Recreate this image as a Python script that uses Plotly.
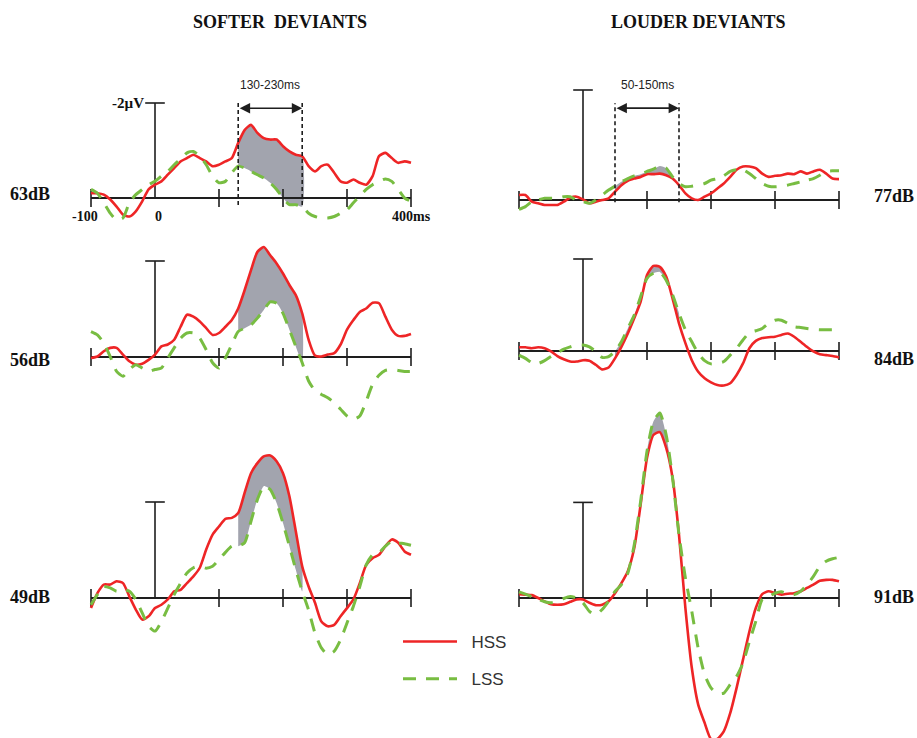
import plotly.graph_objects as go

W, H = 917, 738

# ---------------- data (µV, negative = up) ----------------
TIME_MS = list(range(-100, 401, 10))
X_TICKS = [-100, 0, 100, 200, 300, 400]
X_TICK_LABELS = ["-100", "0", "400ms"]
X_TICK_LABEL_POS = [-100, 0, 400]
SCALE_BAR_UV = -2
SCALE_BAR_LABEL = "-2\u00b5V"
SERIES_NAMES = ["HSS", "LSS"]

HSS_63 = [-0.1, -0.1, -0.07, 0.03, 0.18, 0.35, 0.39, 0.28, 0.07, -0.18,
          -0.28, -0.35, -0.49, -0.63, -0.77, -0.84, -0.91, -0.84, -0.77, -0.67,
          -0.7, -0.77, -0.84, -1.16, -1.43, -1.54, -1.37, -1.26, -1.23, -1.23,
          -1.09, -0.98, -0.91, -0.88, -0.67, -0.56, -0.67, -0.7, -0.53, -0.35,
          -0.32, -0.39, -0.32, -0.28, -0.46, -0.88, -0.95, -0.84, -0.74, -0.77,
          -0.74]
LSS_63 = [-0.18, -0.1, 0.1, 0.32, 0.46, 0.42, 0.1, -0.07, -0.18, -0.28,
          -0.35, -0.46, -0.56, -0.7, -0.82, -0.95, -0.98, -0.88, -0.7, -0.46,
          -0.32, -0.35, -0.53, -0.67, -0.63, -0.56, -0.49, -0.42, -0.32, -0.18,
          0.0, 0.14, 0.14, 0.18, 0.32, 0.39, 0.42, 0.42, 0.39, 0.32,
          0.25, 0.1, -0.04, -0.18, -0.28, -0.35, -0.4, -0.35, -0.18, 0.0,
          0.07]

HSS_56 = [0.02, -0.01, -0.12, -0.19, -0.19, -0.05, 0.09, 0.16, 0.14, 0.06,
          -0.05, -0.22, -0.26, -0.36, -0.63, -0.88, -0.84, -0.74, -0.6, -0.46,
          -0.5, -0.63, -0.77, -1.01, -1.39, -1.81, -2.19, -2.29, -2.12, -1.95,
          -1.74, -1.5, -1.29, -0.91, -0.36, -0.03, -0.01, -0.05, -0.08, -0.26,
          -0.57, -0.77, -0.94, -1.01, -1.13, -1.12, -0.84, -0.57, -0.44, -0.44,
          -0.48]
LSS_56 = [-0.53, -0.46, -0.29, -0.01, 0.3, 0.4, 0.26, 0.16, 0.23, 0.3,
          0.26, 0.23, 0.02, -0.19, -0.39, -0.5, -0.5, -0.39, -0.15, 0.12,
          0.23, 0.02, -0.26, -0.53, -0.6, -0.67, -0.81, -0.98, -1.15, -1.12,
          -0.91, -0.57, -0.22, 0.12, 0.5, 0.7, 0.78, 0.85, 0.95, 1.09,
          1.23, 1.3, 1.23, 0.92, 0.57, 0.38, 0.28, 0.26, 0.28, 0.3,
          0.3]

HSS_49 = [0.21, -0.1, -0.28, -0.28, -0.35, -0.31, -0.03, 0.24, 0.45, 0.38,
          0.21, 0.14, 0.03, -0.14, -0.17, -0.31, -0.45, -0.63, -1.01, -1.32,
          -1.49, -1.65, -1.67, -1.77, -2.19, -2.6, -2.81, -2.95, -2.97, -2.85,
          -2.6, -2.12, -1.39, -0.66, -0.24, 0.1, 0.49, 0.59, 0.56, 0.38,
          0.21, 0.03, -0.31, -0.69, -0.83, -0.9, -1.08, -1.22, -1.15, -0.97,
          -0.9]
LSS_49 = [0.14, -0.07, -0.24, -0.21, -0.14, -0.17, -0.14, 0.03, 0.31, 0.59,
          0.69, 0.49, 0.21, -0.07, -0.31, -0.52, -0.63, -0.66, -0.62, -0.66,
          -0.8, -0.95, -1.08, -1.08, -1.15, -1.6, -2.05, -2.33, -2.26, -1.98,
          -1.56, -1.08, -0.59, -0.14, 0.25, 0.73, 1.04, 1.18, 1.11, 0.87,
          0.52, 0.17, -0.24, -0.69, -0.9, -0.94, -1.08, -1.18, -1.15, -1.13,
          -1.1]

HSS_77 = [-0.09, -0.09, 0.03, 0.06, 0.09, 0.09, 0.09, 0.03, -0.04, -0.06,
          -0.01, 0.06, 0.03, 0.0, -0.03, -0.15, -0.27, -0.35, -0.39, -0.42,
          -0.47, -0.47, -0.48, -0.45, -0.39, -0.27, -0.12, -0.03, 0.0, -0.06,
          -0.12, -0.21, -0.3, -0.42, -0.55, -0.61, -0.61, -0.58, -0.48, -0.42,
          -0.44, -0.45, -0.48, -0.47, -0.52, -0.48, -0.52, -0.55, -0.48, -0.39,
          -0.38]
LSS_77 = [0.17, 0.12, 0.03, 0.0, -0.03, -0.03, -0.03, -0.06, -0.06, 0.0,
          0.03, 0.06, 0.0, -0.09, -0.18, -0.25, -0.33, -0.39, -0.44, -0.47,
          -0.52, -0.56, -0.62, -0.58, -0.42, -0.3, -0.24, -0.25, -0.27, -0.3,
          -0.36, -0.39, -0.44, -0.52, -0.55, -0.55, -0.48, -0.39, -0.3, -0.25,
          -0.24, -0.25, -0.27, -0.3, -0.33, -0.36, -0.39, -0.45, -0.52, -0.53,
          -0.53]

HSS_84 = [-0.08, -0.08, -0.06, -0.08, -0.06, 0.01, 0.11, 0.18, 0.23, 0.23,
          0.2, 0.21, 0.3, 0.4, 0.36, 0.16, -0.09, -0.38, -0.71, -1.07,
          -1.65, -1.85, -1.83, -1.62, -1.14, -0.6, -0.17, 0.2, 0.45, 0.59,
          0.68, 0.74, 0.75, 0.7, 0.52, 0.27, -0.06, -0.22, -0.28, -0.3,
          -0.31, -0.35, -0.38, -0.31, -0.2, -0.09, 0.01, 0.07, 0.09, 0.11,
          0.14]
LSS_84 = [0.09, 0.16, 0.25, 0.27, 0.21, 0.12, 0.04, -0.04, -0.09, -0.13,
          -0.13, -0.09, 0.01, 0.14, 0.12, 0.01, -0.2, -0.49, -0.78, -1.18,
          -1.58, -1.69, -1.72, -1.54, -1.22, -0.82, -0.46, -0.2, 0.05, 0.21,
          0.28, 0.27, 0.23, 0.09, -0.06, -0.24, -0.4, -0.44, -0.49, -0.6,
          -0.67, -0.67, -0.6, -0.53, -0.51, -0.49, -0.47, -0.46, -0.46, -0.46,
          -0.46]

HSS_91 = [-0.08, -0.07, -0.06, 0.0, 0.07, 0.13, 0.14, 0.13, 0.08, 0.03,
          0.03, 0.1, 0.15, 0.14, 0.07, -0.1, -0.31, -0.56, -1.04, -1.95,
          -2.93, -3.41, -3.47, -3.14, -2.51, -1.32, 0.21, 1.46, 2.23, 2.61,
          2.95, 2.95, 2.79, 2.41, 1.88, 1.29, 0.7, 0.21, -0.08, -0.14,
          -0.1, -0.07, -0.09, -0.1, -0.14, -0.21, -0.28, -0.36, -0.38, -0.38,
          -0.35]
LSS_91 = [-0.13, -0.08, -0.03, 0.03, 0.08, 0.1, 0.07, 0.01, -0.03, 0.0,
          0.1, 0.28, 0.35, 0.24, 0.07, -0.14, -0.28, -0.52, -1.11, -2.02,
          -3.07, -3.69, -3.87, -3.41, -2.51, -1.32, -0.42, 0.28, 1.05, 1.6,
          1.88, 2.0, 1.99, 1.81, 1.64, 1.36, 0.91, 0.49, 0.03, -0.03,
          -0.1, -0.13, -0.08, -0.07, -0.14, -0.28, -0.45, -0.66, -0.77, -0.82,
          -0.85]

COLUMN_TITLES = ["SOFTER  DEVIANTS", "LOUDER DEVIANTS"]
WINDOW_LABELS = {"L": "130-230ms", "R": "50-150ms"}
WINDOWS = {"L": (130, 230), "R": (50, 150)}

# ---------------- layout config (pixels) ----------------
RED = "#ee2526"
GREEN = "#78bd42"
GRAY = "#a2a4ae"
INK = "#1e1e1e"
SERIF = "Liberation Serif, Times New Roman, serif"
SANS = "Liberation Sans, Arial, sans-serif"

COLS = {"L": dict(x0px=155, xbox=(70, 432), label_x=8),
        "R": dict(x0px=583, xbox=(500, 862), label_x=872)}
PX_PER_MS = 0.64

PANELS = [
    dict(name="63dB", col="L", hss=HSS_63, lss=LSS_63, ybox=(60, 232), base=198, scale=47.5,
         window=True, dash=(0.15, -2.0), arrow_y=-1.89, wlabel_y=-2.38, ticklabels=True, label_y=194),
    dict(name="56dB", col="L", hss=HSS_56, lss=LSS_56, ybox=(232, 440), base=357, scale=48.0,
         window=False, ticklabels=False, label_y=360),
    dict(name="49dB", col="L", hss=HSS_49, lss=LSS_49, ybox=(440, 738), base=598, scale=48.0,
         window=False, ticklabels=False, label_y=597),
    dict(name="77dB", col="R", hss=HSS_77, lss=LSS_77, ybox=(60, 232), base=200, scale=55.0,
         window=True, dash=(0.04, -1.76), arrow_y=-1.67, wlabel_y=-2.09, ticklabels=False, label_y=196),
    dict(name="84dB", col="R", hss=HSS_84, lss=LSS_84, ybox=(232, 395), base=351, scale=46.0,
         window=False, ticklabels=False, label_y=359),
    dict(name="91dB", col="R", hss=HSS_91, lss=LSS_91, ybox=(395, 738), base=598, scale=47.8,
         window=False, ticklabels=False, label_y=597),
]

fig = go.Figure()
annotations = []
layout_axes = {}
NB = "\u00a0\u00a0"

for i, p in enumerate(PANELS, start=1):
    c = COLS[p["col"]]
    xa = "x" if i == 1 else f"x{i}"
    ya = "y" if i == 1 else f"y{i}"
    xk = "xaxis" if i == 1 else f"xaxis{i}"
    yk = "yaxis" if i == 1 else f"yaxis{i}"
    xl, xr = c["xbox"]
    yt, yb = p["ybox"]
    xrange = [(xl - c["x0px"]) / PX_PER_MS, (xr - c["x0px"]) / PX_PER_MS]
    yrange = [(yb - p["base"]) / p["scale"], (yt - p["base"]) / p["scale"]]
    layout_axes[xk] = dict(domain=[xl / W, xr / W], range=xrange, visible=False,
                           anchor=ya, fixedrange=True)
    layout_axes[yk] = dict(domain=[1 - yb / H, 1 - yt / H], range=yrange, visible=False,
                           anchor=xa, fixedrange=True)

    w0, w1 = WINDOWS[p["col"]]
    idx = [k for k, t in enumerate(TIME_MS) if w0 <= t <= w1]
    fx = [TIME_MS[k] for k in idx] + [TIME_MS[k] for k in reversed(idx)]
    fy = [p["hss"][k] for k in idx] + [p["lss"][k] for k in reversed(idx)]
    fig.add_trace(go.Scatter(x=fx, y=fy, fill="toself", fillcolor=GRAY, mode="lines",
                             line=dict(width=0, shape="spline", smoothing=0.6),
                             showlegend=False, hoverinfo="skip", xaxis=xa, yaxis=ya))

    # x axis line + ticks
    fig.add_trace(go.Scatter(x=[X_TICKS[0], X_TICKS[-1]], y=[0, 0], mode="lines",
                             line=dict(color=INK, width=2), showlegend=False,
                             hoverinfo="skip", xaxis=xa, yaxis=ya))
    tk = [t for t in X_TICKS if t != 0]
    fig.add_trace(go.Scatter(x=tk, y=[0] * len(tk), mode="markers",
                             marker=dict(symbol="line-ns", size=13, line=dict(color=INK, width=1.6)),
                             showlegend=False, hoverinfo="skip", xaxis=xa, yaxis=ya))
    # vertical scale axis
    fig.add_trace(go.Scatter(x=[0, 0], y=[0, SCALE_BAR_UV], mode="lines",
                             line=dict(color=INK, width=1.6), showlegend=False,
                             hoverinfo="skip", xaxis=xa, yaxis=ya))
    fig.add_trace(go.Scatter(x=[0], y=[SCALE_BAR_UV], mode="markers",
                             marker=dict(symbol="line-ew", size=14, line=dict(color=INK, width=1.6)),
                             showlegend=False, hoverinfo="skip", xaxis=xa, yaxis=ya))

    # waveforms
    fig.add_trace(go.Scatter(x=TIME_MS, y=p["hss"], mode="lines", name=NB + SERIES_NAMES[0],
                             line=dict(color=RED, width=2.6, shape="spline", smoothing=0.6),
                             showlegend=(i == 1), legendgroup="HSS",
                             xaxis=xa, yaxis=ya))
    fig.add_trace(go.Scatter(x=TIME_MS, y=p["lss"], mode="lines", name=NB + SERIES_NAMES[1],
                             line=dict(color=GREEN, width=3, dash="13px,10px",
                                       shape="spline", smoothing=0.6),
                             showlegend=(i == 1), legendgroup="LSS",
                             xaxis=xa, yaxis=ya))

    if p["window"]:
        d0, d1 = p["dash"]
        for t in (w0, w1):
            fig.add_trace(go.Scatter(x=[t, t], y=[d0, d1], mode="lines",
                                     line=dict(color=INK, width=1.6, dash="4px,3px"),
                                     showlegend=False, hoverinfo="skip", xaxis=xa, yaxis=ya))
        annotations.append(dict(x=w1, y=p["arrow_y"], ax=w0, ay=p["arrow_y"],
                                xref=xa, yref=ya, axref=xa, ayref=ya, text="",
                                showarrow=True, arrowside="end+start", arrowhead=2,
                                arrowsize=1.3, arrowwidth=1.6, arrowcolor=INK,
                                standoff=0, startstandoff=0))
        annotations.append(dict(x=(w0 + w1) / 2, y=p["wlabel_y"], xref=xa, yref=ya,
                                text=WINDOW_LABELS[p["col"]], showarrow=False,
                                xanchor="center", yanchor="middle",
                                font=dict(family=SANS, size=12, color="#222")))
    if p["ticklabels"]:
        annotations.append(dict(x=0, y=SCALE_BAR_UV, xref=xa, yref=ya,
                                text=f"<b>{SCALE_BAR_LABEL}</b>",
                                showarrow=False, xanchor="right", yanchor="middle", xshift=-9,
                                font=dict(family=SERIF, size=15, color="#111")))
        shifts = {"-100": -6, "0": 3, "400ms": 0}
        for lab, pos in zip(X_TICK_LABELS, X_TICK_LABEL_POS):
            annotations.append(dict(x=pos, y=0, xref=xa, yref=ya, text=f"<b>{lab}</b>",
                                    showarrow=False, yshift=-18, xshift=shifts[lab],
                                    xanchor="center", yanchor="middle",
                                    font=dict(family=SERIF, size=14, color="#111")))

    annotations.append(dict(x=c["label_x"] / W, y=1 - p["label_y"] / H, xref="paper", yref="paper",
                            text=f"<b>{p['name']}</b>", showarrow=False,
                            xanchor="left", yanchor="middle",
                            font=dict(family=SERIF, size=18, color="#111")))

for title, xc in zip(COLUMN_TITLES, (280, 698)):
    annotations.append(dict(x=xc / W, y=1 - 22 / H, xref="paper", yref="paper",
                            text=f"<b>{title}</b>", showarrow=False,
                            xanchor="center", yanchor="middle",
                            font=dict(family=SERIF, size=18, color="#111")))

fig.update_layout(
    width=W, height=H, margin=dict(l=0, r=0, t=0, b=0),
    paper_bgcolor="white", plot_bgcolor="rgba(0,0,0,0)",
    annotations=annotations,
    showlegend=True,
    legend=dict(x=398 / W, y=1 - 624 / H, xanchor="left", yanchor="top",
                bgcolor="rgba(0,0,0,0)", font=dict(family=SANS, size=17, color="#333"),
                tracegroupgap=12, itemwidth=54),
    **layout_axes,
)

fig.write_html("out.html", config={"displayModeBar": False},
               post_script="document.body.style.margin='0';document.body.style.overflow='hidden';")
